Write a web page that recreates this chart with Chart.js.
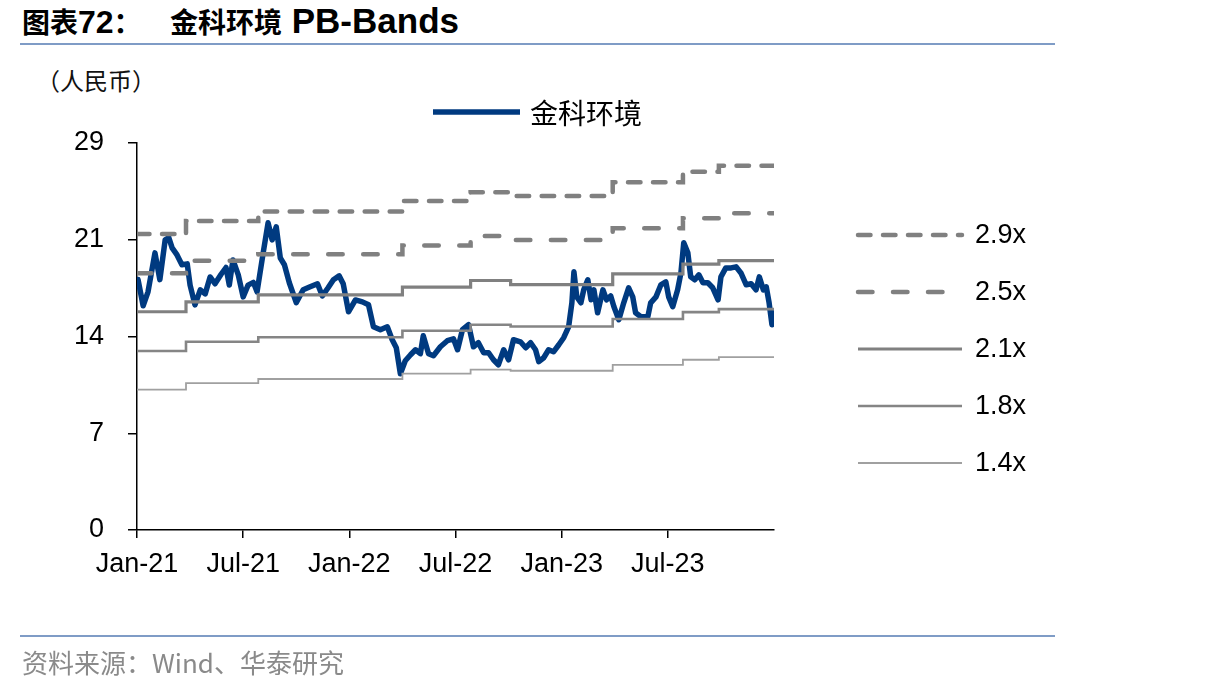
<!DOCTYPE html>
<html>
<head>
<meta charset="utf-8">
<script src="https://cdn.jsdelivr.net/npm/chart.js@4.4.0/dist/chart.umd.min.js"></script>
<style>
  body { margin: 0; width: 1206px; height: 692px; background: #fff; position: relative; overflow: hidden; }
  .title { position: absolute; top: 1px; font-weight: bold; color: #000; white-space: nowrap; }
  .cjk { font-family: "Noto Sans CJK SC", sans-serif; font-size: 28px; }
  .lat { font-family: "Liberation Sans", Arial, sans-serif; font-size: 32px; }
  .rule { position: absolute; left: 20px; width: 1035px; height: 2px; background: #7f9cc6; }
  .unit { position: absolute; left: 36px; top: 62px; font-size: 24px; color: #111; font-family: "Noto Sans CJK SC", sans-serif; }
  .source { position: absolute; left: 22px; top: 643px; font-size: 26px; color: #8a8a8a; font-family: "Noto Sans CJK SC", sans-serif; }
  #chart { position: absolute; left: 0; top: 0; }
</style>
</head>
<body>
<div class="title" style="left:22px"><span class="cjk">图表</span><span class="lat">72</span><span class="cjk">：</span></div>
<div class="title" style="left:170px"><span class="cjk">金科环境</span><span class="lat" style="font-size:35px"> PB-Bands</span></div>
<div class="rule" style="top:43px"></div>
<div class="unit">（人民币）</div>
<canvas id="chart" width="1206" height="692"></canvas>
<div class="rule" style="top:635px"></div>
<div class="source">资料来源：Wind、华泰研究</div>

<script>
// x axis is in weeks since Jan-21
const weekTicks = [0, 26, 52, 78, 104, 130];
const weekLabels = ['Jan-21', 'Jul-21', 'Jan-22', 'Jul-22', 'Jan-23', 'Jul-23'];
const yTicks = [0, 7.15, 14.3, 21.45, 28.6];
const yLabels = ['0', '7', '14', '21', '29'];

const priceName = '金科环境';
const priceWeeks = [0.25, 1.5, 2.7, 4.4, 5.6, 6.9, 7.8, 8.6, 9.8, 11.0,
  12.3, 13.0, 14.2, 15.5, 16.7, 17.9, 19.1, 20.6, 21.8, 22.6,
  23.5, 24.8, 26.0, 27.2, 28.5, 29.4, 30.9, 32.1, 33.1, 34.1,
  35.1, 36.1, 37.3, 39.0, 40.7, 42.4, 44.2, 45.4, 46.8, 48.1,
  49.5, 50.5, 51.8, 53.5, 55.2, 56.7, 57.9, 59.6, 61.3, 62.5,
  63.5, 64.5, 65.7, 67.0, 68.2, 69.4, 70.1, 71.4, 72.6, 74.3,
  76.0, 77.5, 78.5, 79.7, 81.2, 82.4, 83.6, 84.9, 86.1, 87.3,
  88.5, 89.8, 91.0, 92.2, 93.9, 95.2, 96.4, 97.6, 98.4, 99.6,
  100.8, 102.0, 103.3, 104.5, 105.7, 106.5, 107.0, 107.7, 108.7, 109.4,
  110.4, 111.2, 111.9, 112.8, 114.1, 115.0, 116.0, 116.8, 118.0, 119.2,
  120.4, 121.4, 122.1, 123.4, 125.1, 125.8, 127.1, 128.3, 129.5, 130.2,
  131.2, 132.4, 133.2, 133.9, 134.9, 135.6, 136.6, 137.6, 138.6, 139.8,
  141.0, 142.3, 143.0, 144.2, 145.5, 146.7, 147.9, 149.2, 150.4, 151.6,
  152.4, 153.4, 154.1, 154.8, 155.5, 156.0];
const priceValues = [18.51, 16.57, 17.6, 20.48, 18.5, 21.44, 21.6, 20.85, 20.33, 19.6,
  19.67, 18.1, 16.64, 17.75, 17.45, 18.7, 18.2, 18.9, 19.4, 18.1,
  19.96, 18.85, 17.23, 18.1, 18.3, 17.6, 20.48, 22.7, 21.44, 22.4,
  20.1, 19.6, 18.27, 16.8, 17.75, 17.97, 18.2, 17.3, 17.9, 18.5,
  18.78, 18.2, 16.13, 17.0, 16.86, 16.64, 15.02, 14.8, 15.02, 14.06,
  13.47, 11.55, 12.51, 12.95, 13.32, 13.03, 14.35, 13.03, 12.88, 13.54,
  13.99, 14.13, 13.32, 14.8, 15.17, 13.54, 13.84, 13.1, 13.1, 12.58,
  12.21, 13.32, 12.58, 14.06, 13.91, 13.47, 13.84, 13.32, 12.44, 12.73,
  13.32, 13.17, 13.69, 14.21, 15.02, 16.79, 19.08, 17.23, 16.79, 17.75,
  18.49, 17.01, 17.75, 16.05, 17.75, 17.01, 17.3, 16.5, 15.54, 16.79,
  17.9, 17.23, 16.05, 15.76, 15.76, 16.79, 17.23, 18.12, 18.34, 17.23,
  16.5, 17.75, 19.0, 21.22, 20.48, 18.71, 18.49, 18.86, 18.27, 18.27,
  17.9, 17.01, 18.71, 19.37, 19.37, 19.45, 19.0, 18.12, 18.2, 17.75,
  18.71, 17.75, 17.97, 16.79, 15.17, 16.05];

// PB bands change level at report dates (weeks)
const bandNames = ['2.9x', '2.5x', '2.1x', '1.8x', '1.4x'];
const bandBreaks = [0, 12, 29.7, 65, 81.7, 91.5, 116.5, 133.7, 142.5, 156];
const band29 = [21.88, 22.84, 23.53, 24.32, 24.96, 24.69, 25.7, 26.48, 26.92];
const band25 = [18.98, 19.89, 20.37, 21.03, 21.73, 21.44, 22.3, 23.04, 23.41];
const band21 = [16.13, 16.86, 17.38, 17.95, 18.44, 18.14, 18.93, 19.65, 19.91];
const band18 = [13.23, 13.91, 14.24, 14.72, 15.17, 15.04, 15.59, 16.1, 16.32];
const band14 = [10.37, 10.86, 11.16, 11.55, 11.85, 11.77, 12.21, 12.58, 12.78];

function stepPoints(levels) {
  const pts = levels.map((v, i) => ({ x: bandBreaks[i], y: v }));
  pts.push({ x: bandBreaks[bandBreaks.length - 1], y: levels[levels.length - 1] });
  return pts;
}

function bandSet(name, levels, width, dash, color) {
  return {
    label: name,
    data: stepPoints(levels),
    stepped: true,
    borderColor: color,
    borderWidth: width,
    borderDash: dash,
    borderCapStyle: dash.length ? 'round' : 'butt',
    pointRadius: 0,
    order: 0
  };
}

const pbLegend = {
  id: 'pbLegend',
  afterDraw(chart) {
    const ctx = chart.ctx;
    ctx.save();
    ctx.textBaseline = 'middle';
    chart.data.datasets.forEach((ds, i) => {
      let x0, x1, y, tx, font;
      if (i === 0) {
        x0 = 433; x1 = 520; y = 112; tx = 530; font = '28px "Noto Sans CJK SC"';
      } else {
        x0 = 858; x1 = 962; y = 235 + (i - 1) * 57; tx = 975; font = '27px "Liberation Sans"';
      }
      ctx.strokeStyle = ds.borderColor;
      ctx.lineWidth = ds.borderWidth;
      ctx.setLineDash(ds.borderDash || []);
      ctx.lineCap = i === 0 ? 'butt' : ds.borderCapStyle;
      ctx.beginPath();
      ctx.moveTo(x0, y);
      ctx.lineTo(x1, y);
      ctx.stroke();
      ctx.setLineDash([]);
      ctx.fillStyle = '#000';
      ctx.font = font;
      ctx.fillText(ds.label, tx, y + 1);
    });
    ctx.restore();
  }
};

const axisFont = { family: '"Liberation Sans", Arial, sans-serif', size: 27 };

new Chart(document.getElementById('chart'), {
  type: 'line',
  data: {
    datasets: [
      {
        label: priceName,
        data: priceWeeks.map((w, i) => ({ x: w, y: priceValues[i] })),
        borderColor: '#003a80',
        borderWidth: 5.5,
        borderJoinStyle: 'round',
        borderCapStyle: 'round',
        pointRadius: 0,
        tension: 0,
        order: 1
      },
      bandSet(bandNames[0], band29, 4.5, [12.5, 12.5], '#808080'),
      bandSet(bandNames[1], band25, 4.5, [14.5, 20.5], '#808080'),
      bandSet(bandNames[2], band21, 3.2, [], '#808080'),
      bandSet(bandNames[3], band18, 2.6, [], '#858585'),
      bandSet(bandNames[4], band14, 1.8, [], '#a0a0a0')
    ]
  },
  options: {
    responsive: false,
    devicePixelRatio: 1,
    animation: false,
    layout: { padding: { left: 0, top: 143, right: 432, bottom: 0 } },
    plugins: { legend: { display: false }, tooltip: { enabled: false } },
    scales: {
      x: {
        type: 'linear',
        min: 0,
        max: 156,
        afterBuildTicks: s => { s.ticks = weekTicks.map(v => ({ value: v })); },
        afterFit: s => { s.height = 162; },
        ticks: { callback: (v, i) => weekLabels[i], font: axisFont, color: '#000', padding: 10, maxRotation: 0, autoSkip: false },
        grid: { drawOnChartArea: false, drawTicks: true, tickLength: 8, color: '#000', lineWidth: 1.5 },
        border: { color: '#000', width: 1.5 }
      },
      y: {
        type: 'linear',
        min: 0,
        max: 28.6,
        afterBuildTicks: s => { s.ticks = yTicks.map(v => ({ value: v })); },
        afterFit: s => { s.width = 137; },
        ticks: { callback: (v, i) => yLabels[i], font: axisFont, color: '#000', padding: 24, autoSkip: false },
        grid: { drawOnChartArea: false, drawTicks: true, tickLength: 9, color: '#000', lineWidth: 1.5 },
        border: { color: '#000', width: 1.5 }
      }
    }
  },
  plugins: [pbLegend]
});
</script>
</body>
</html>
